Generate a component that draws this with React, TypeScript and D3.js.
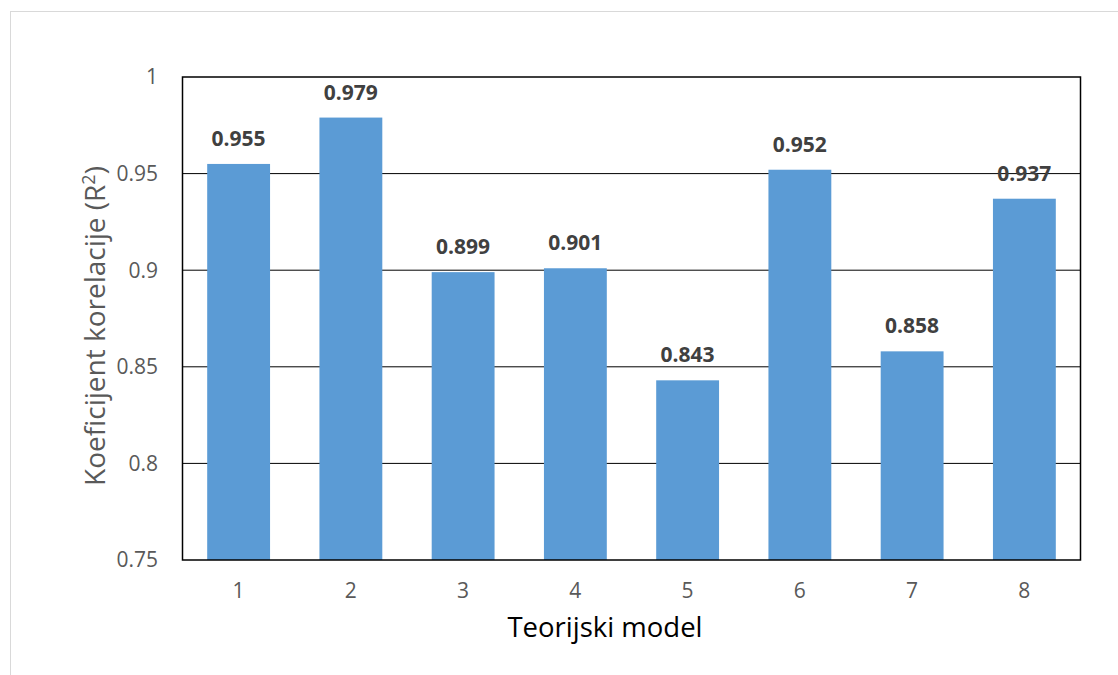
import React from "react";
import * as d3 from "d3";

const categories = ["1", "2", "3", "4", "5", "6", "7", "8"];
const values = [0.955, 0.979, 0.899, 0.901, 0.843, 0.952, 0.858, 0.937];
const yTicks = [0.75, 0.8, 0.85, 0.9, 0.95, 1];
const yTickLabels = ["0.75", "0.8", "0.85", "0.9", "0.95", "1"];
const xTitle = "Teorijski model";
const yTitle = "Koeficijent korelacije (R";

const W = 1118;
const H = 675;
const M = { left: 182.5, top: 77, right: 1080.5, bottom: 560 };
const FONT = "'Open Sans', 'Liberation Sans', sans-serif";

export default function App() {
  const x = d3
    .scaleBand<string>()
    .domain(categories)
    .range([M.left, M.right])
    .paddingInner(0.44)
    .paddingOuter(0.22);
  const y = d3.scaleLinear().domain([0.75, 1]).range([M.bottom, M.top]);

  return (
    <svg
      width={W}
      height={H}
      style={{ position: "absolute", left: 0, top: 0, background: "#fff" }}
    >
      <rect x={10.5} y={11.5} width={1120} height={700} fill="#fff" stroke="#d9d9d9" strokeWidth={1} />
      {yTicks.map((t, i) => (
        <g key={t}>
          {i > 0 && i < yTicks.length - 1 && (
            <line x1={M.left} x2={M.right} y1={y(t)} y2={y(t)} stroke="#000" strokeWidth={1} />
          )}
          <text
            x={158}
            y={y(t)}
            dy="0.35em"
            textAnchor="end"
            fontFamily={FONT}
            fontSize={21}
            fill="#595959"
          >
            {yTickLabels[i]}
          </text>
        </g>
      ))}
      {categories.map((c, i) => (
        <g key={c}>
          <rect
            x={x(c)}
            y={y(values[i])}
            width={x.bandwidth()}
            height={y(0.75) - y(values[i])}
            fill="#5B9BD5"
          />
          <text
            x={(x(c) as number) + x.bandwidth() / 2}
            y={y(values[i]) - 18}
            textAnchor="middle"
            fontFamily={FONT}
            fontWeight="bold"
            fontSize={21}
            fill="#404040"
          >
            {values[i].toFixed(3)}
          </text>
          <text
            x={(x(c) as number) + x.bandwidth() / 2}
            y={598}
            textAnchor="middle"
            fontFamily={FONT}
            fontSize={21}
            fill="#595959"
          >
            {c}
          </text>
        </g>
      ))}
      <rect
        x={M.left}
        y={M.top}
        width={M.right - M.left}
        height={M.bottom - M.top}
        fill="none"
        stroke="#000"
        strokeWidth={1.5}
      />
      <text
        x={605}
        y={637}
        textAnchor="middle"
        fontFamily={FONT}
        fontSize={27.5}
        fill="#000"
      >
        {xTitle}
      </text>
      <text
        transform={`translate(105,326) rotate(-90)`}
        textAnchor="middle"
        fontFamily={FONT}
        fontSize={28}
        fill="#595959"
      >
        {yTitle}
        <tspan dy={-10} fontSize={18}>2</tspan>
        <tspan dy={10}>)</tspan>
      </text>
    </svg>
  );
}
